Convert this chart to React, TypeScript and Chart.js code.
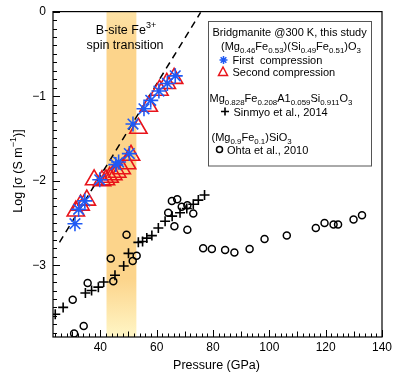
import React, { useEffect, useRef } from 'react';
import { Chart, registerables } from 'chart.js';
Chart.register(...registerables);

// ---- Data ----
const firstX = [31.0, 32.3, 34.5, 39.8, 45.5, 46.5, 50.3, 51.6, 55.5, 57.9, 60.8, 63.8, 66.6];
const firstY = [-2.51, -2.34, -2.24, -1.99, -1.81, -1.78, -1.68, -1.33, -1.15, -1.05, -0.94, -0.85, -0.76];

const secondX = [31.3, 33.0, 35.2, 37.8, 40.6, 42.0, 43.3, 44.6, 46.0, 47.6, 49.5, 50.9, 53.5, 57.2, 61.0, 63.6, 66.2];
const secondY = [-2.36, -2.29, -2.23, -1.99, -2.0, -1.99, -1.96, -1.93, -1.9, -1.86, -1.8, -1.7, -1.38, -1.12, -0.93, -0.85, -0.79];

const sinmyoX = [24.0, 26.8, 34.7, 36.9, 39.3, 41.2, 45.2, 48.3, 50.0, 53.5, 55.0, 56.5, 58.3, 60.6, 63.0, 65.5, 68.3, 70.7, 73.0, 74.8, 77.0];
const sinmyoY = [-3.58, -3.5, -3.33, -3.3, -3.26, -3.2, -3.12, -3.01, -2.86, -2.73, -2.72, -2.68, -2.65, -2.56, -2.48, -2.42, -2.38, -2.33, -2.28, -2.23, -2.17];

const ohtaX = [30.2, 30.7, 34.1, 35.5, 43.7, 44.6, 49.3, 51.5, 52.9, 64.1, 65.4, 67.3, 66.3, 68.9, 70.9, 70.9, 73.0, 76.5, 79.6, 84.3, 87.6, 93.0, 98.3, 106.2, 116.5, 119.6, 122.8, 124.4, 129.9, 132.9];
const ohtaY = [-3.41, -3.81, -3.72, -3.21, -2.92, -3.19, -2.64, -2.95, -2.89, -2.38, -2.24, -2.22, -2.54, -2.31, -2.29, -2.58, -2.39, -2.8, -2.81, -2.82, -2.85, -2.81, -2.69, -2.65, -2.56, -2.5, -2.52, -2.52, -2.46, -2.41];

const dashX = [25.5, 75.6];
const dashY = [-2.73, -0.01];

const bandRange = [42.2, 52.8];

const xTicks = [40, 60, 80, 100, 120, 140];
const yTicks = [0, -1, -2, -3];
const xRange = [23.2, 140];
const yRange = [-3.85, 0];

const FONT = '"Liberation Sans", Arial, Helvetica, sans-serif';
const BLUE = '#1f5af5';
const RED = '#e8141b';

// segment kinds: 0 normal, 1 subscript, 2 superscript
type Seg = [string, number];
const legendTitle1: Seg[] = [['Bridgmanite @300 K, this study', 0]];
const legendFormula1: Seg[] = [['(Mg', 0], ['0.46', 1], ['Fe', 0], ['0.53', 1], [')(Si', 0], ['0.49', 1], ['Fe', 0], ['0.51', 1], [')O', 0], ['3', 1]];
const legendFirst = 'First  compression';
const legendSecond = 'Second compression';
const legendFormula2: Seg[] = [['Mg', 0], ['0.828', 1], ['Fe', 0], ['0.208', 1], ['A1', 0], ['0.059', 1], ['Si', 0], ['0.911', 1], ['O', 0], ['3', 1]];
const legendSinmyo = 'Sinmyo et al., 2014';
const legendFormula3: Seg[] = [['(Mg', 0], ['0.9', 1], ['Fe', 0], ['0.1', 1], [')SiO', 0], ['3', 1]];
const legendOhta = 'Ohta et al., 2010';
const bandLabel1: Seg[] = [['B-site Fe', 0], ['3+', 2]];
const bandLabel2 = 'spin transition';
const yTitle: Seg[] = [['Log [σ (S m', 0], ['−1', 2], [')]', 0]];
const xTitle = 'Pressure (GPa)';

function richWidth(ctx: CanvasRenderingContext2D, segs: Seg[], size: number) {
  let w = 0;
  for (const [t, k] of segs) {
    ctx.font = `${k === 0 ? size : size * 0.72}px ${FONT}`;
    w += ctx.measureText(t).width;
  }
  return w;
}
function rich(ctx: CanvasRenderingContext2D, x: number, base: number, segs: Seg[], size: number) {
  let cx = x;
  ctx.textAlign = 'left';
  ctx.textBaseline = 'alphabetic';
  for (const [t, k] of segs) {
    const fs = k === 0 ? size : size * 0.72;
    ctx.font = `${fs}px ${FONT}`;
    const dy = k === 1 ? size * 0.28 : k === 2 ? -size * 0.42 : 0;
    ctx.fillText(t, cx, base + dy);
    cx += ctx.measureText(t).width;
  }
}

const decor = {
  id: 'decor',
  beforeDatasetsDraw(chart: any) {
    const { ctx, chartArea: a, scales } = chart;
    const xs = scales.x;
    const x0 = xs.getPixelForValue(bandRange[0]);
    const x1 = xs.getPixelForValue(bandRange[1]);
    ctx.save();
    const g = ctx.createLinearGradient(0, a.top, 0, a.bottom);
    g.addColorStop(0, '#fde2a6');
    g.addColorStop(0.12, '#fcd48b');
    g.addColorStop(0.82, '#fcd48b');
    g.addColorStop(1, '#fff6c6');
    ctx.fillStyle = g;
    ctx.fillRect(x0, a.top, x1 - x0, a.bottom - a.top);
    ctx.fillStyle = '#000';
    const w1 = richWidth(ctx, bandLabel1, 12.5);
    rich(ctx, 126 - w1 / 2, 33.5, bandLabel1, 12.5);
    ctx.font = `12.5px ${FONT}`;
    ctx.textAlign = 'center';
    ctx.fillText(bandLabel2, 125, 48.5);
    ctx.restore();
  },
  afterDatasetsDraw(chart: any) {
    const { ctx, chartArea: a, scales } = chart;
    const xs = scales.x, ys = scales.y;
    ctx.save();
    ctx.strokeStyle = '#000';
    ctx.lineWidth = 1.2;
    ctx.strokeRect(a.left, a.top, a.right - a.left, a.bottom - a.top);
    ctx.lineWidth = 1;
    ctx.beginPath();
    for (let k = 0; k <= 38; k++) {
      const v = -k / 10;
      const py = Math.round(ys.getPixelForValue(v)) + 0.5;
      const len = k % 10 === 0 ? 7 : 4;
      ctx.moveTo(a.left, py);
      ctx.lineTo(a.left + len, py);
    }
    for (let gpa = 24; gpa <= 140; gpa += 2) {
      const px = Math.round(xs.getPixelForValue(gpa)) + 0.5;
      const len = gpa % 20 === 0 ? 7 : gpa % 10 === 0 ? 5.5 : 3.5;
      ctx.moveTo(px, a.bottom);
      ctx.lineTo(px, a.bottom - len);
    }
    ctx.stroke();

    // tick labels
    ctx.fillStyle = '#000';
    ctx.font = `12px ${FONT}`;
    ctx.textAlign = 'right';
    ctx.textBaseline = 'middle';
    for (const v of yTicks) {
      const lbl = v === 0 ? '0' : '−' + String(Math.abs(v));
      ctx.fillText(lbl, a.left - 7, ys.getPixelForValue(v) + 0.5);
    }
    ctx.textAlign = 'center';
    for (const v of xTicks) {
      ctx.fillText(String(v), xs.getPixelForValue(v), 347.5);
    }
    // titles
    ctx.font = `12.5px ${FONT}`;
    ctx.fillText(xTitle, (a.left + a.right) / 2 - 1, 365.5);
    ctx.save();
    ctx.translate(21.5, 171);
    ctx.rotate(-Math.PI / 2);
    const wy = richWidth(ctx, yTitle, 12.5);
    rich(ctx, -wy / 2, 0, yTitle, 12.5);
    ctx.restore();

    // legend box
    ctx.fillStyle = '#fff';
    ctx.fillRect(208.5, 21.5, 163, 144.5);
    ctx.strokeStyle = '#555';
    ctx.lineWidth = 1;
    ctx.strokeRect(208.5, 21.5, 163, 144.5);
    ctx.fillStyle = '#000';
    rich(ctx, 212.5, 35.5, legendTitle1, 11);
    rich(ctx, 221, 49.5, legendFormula1, 11);
    ctx.font = `11px ${FONT}`;
    ctx.textAlign = 'left';
    ctx.textBaseline = 'alphabetic';
    ctx.fillText(legendFirst, 232.5, 64);
    ctx.fillText(legendSecond, 232.5, 76);
    rich(ctx, 209.5, 101.5, legendFormula2, 11);
    ctx.font = `11px ${FONT}`;
    ctx.fillText(legendSinmyo, 233.5, 115.5);
    rich(ctx, 211.5, 140.5, legendFormula3, 11);
    ctx.font = `11px ${FONT}`;
    ctx.fillText(legendOhta, 227, 153.5);

    // legend markers
    ctx.strokeStyle = BLUE;
    ctx.lineWidth = 1.5;
    ctx.beginPath();
    const ax = 223.5, ay = 60;
    for (let i = 0; i < 4; i++) {
      const ang = (i * Math.PI) / 4;
      ctx.moveTo(ax + Math.cos(ang) * 4, ay + Math.sin(ang) * 4);
      ctx.lineTo(ax - Math.cos(ang) * 4, ay - Math.sin(ang) * 4);
    }
    ctx.stroke();
    ctx.strokeStyle = RED;
    ctx.lineWidth = 1.5;
    ctx.beginPath();
    ctx.moveTo(223, 67);
    ctx.lineTo(227.5, 75.5);
    ctx.lineTo(218.5, 75.5);
    ctx.closePath();
    ctx.stroke();
    ctx.strokeStyle = '#000';
    ctx.lineWidth = 1.6;
    ctx.beginPath();
    ctx.moveTo(221, 111.5);
    ctx.lineTo(229, 111.5);
    ctx.moveTo(225, 107.5);
    ctx.lineTo(225, 115.5);
    ctx.stroke();
    ctx.lineWidth = 1.5;
    ctx.beginPath();
    ctx.arc(219.5, 149.5, 3, 0, Math.PI * 2);
    ctx.stroke();
    ctx.restore();
  },
};

const pts = (xs: number[], ys: number[]) => xs.map((x, i) => ({ x, y: ys[i] }));

export default function App() {
  const ref = useRef<HTMLCanvasElement>(null);
  useEffect(() => {
    if (!ref.current) return;
    const chart = new Chart(ref.current, {
      type: 'scatter',
      data: {
        datasets: [
          {
            label: 'First compression',
            data: pts(firstX, firstY),
            pointStyle: 'star',
            pointRadius: 7.5,
            borderColor: BLUE,
            backgroundColor: BLUE,
            borderWidth: 1.6,
          },
          {
            label: 'Second compression',
            data: pts(secondX, secondY),
            pointStyle: 'triangle',
            pointRadius: 10,
            borderColor: RED,
            backgroundColor: 'rgba(0,0,0,0)',
            borderWidth: 1.6,
          },
          {
            label: 'Sinmyo et al., 2014',
            data: pts(sinmyoX, sinmyoY),
            pointStyle: 'cross',
            pointRadius: 5,
            borderColor: '#000',
            borderWidth: 1.6,
          },
          {
            label: 'Ohta et al., 2010',
            data: pts(ohtaX, ohtaY),
            pointStyle: 'circle',
            pointRadius: 3.5,
            borderColor: '#000',
            backgroundColor: 'rgba(0,0,0,0)',
            borderWidth: 1.5,
          },
          {
            type: 'line',
            label: 'fit',
            data: pts(dashX, dashY),
            borderColor: '#000',
            borderWidth: 1.5,
            borderDash: [7, 5],
            pointRadius: 0,
            showLine: true,
            fill: false,
          } as any,
        ],
      },
      options: {
        animation: false,
        responsive: false,
        devicePixelRatio: 1,
        events: [],
        layout: { padding: { left: 0, right: 13, top: 10, bottom: 0 } },
        plugins: { legend: { display: false }, tooltip: { enabled: false } },
        scales: {
          x: {
            type: 'linear',
            min: xRange[0],
            max: xRange[1],
            grid: { display: false, drawTicks: false },
            border: { display: false },
            ticks: { display: false },
            afterFit: (s: any) => { s.height = 39; },
          },
          y: {
            type: 'linear',
            min: yRange[0],
            max: yRange[1],
            grid: { display: false, drawTicks: false },
            border: { display: false },
            ticks: { display: false },
            afterFit: (s: any) => { s.width = 53; },
          },
        },
      },
      plugins: [decor],
    });
    return () => chart.destroy();
  }, []);
  return (
    <div style={{ position: 'fixed', left: 0, top: 0, width: 395, height: 376, background: '#fff' }}>
      <canvas ref={ref} width={395} height={376} style={{ width: 395, height: 376, display: 'block' }} />
    </div>
  );
}
